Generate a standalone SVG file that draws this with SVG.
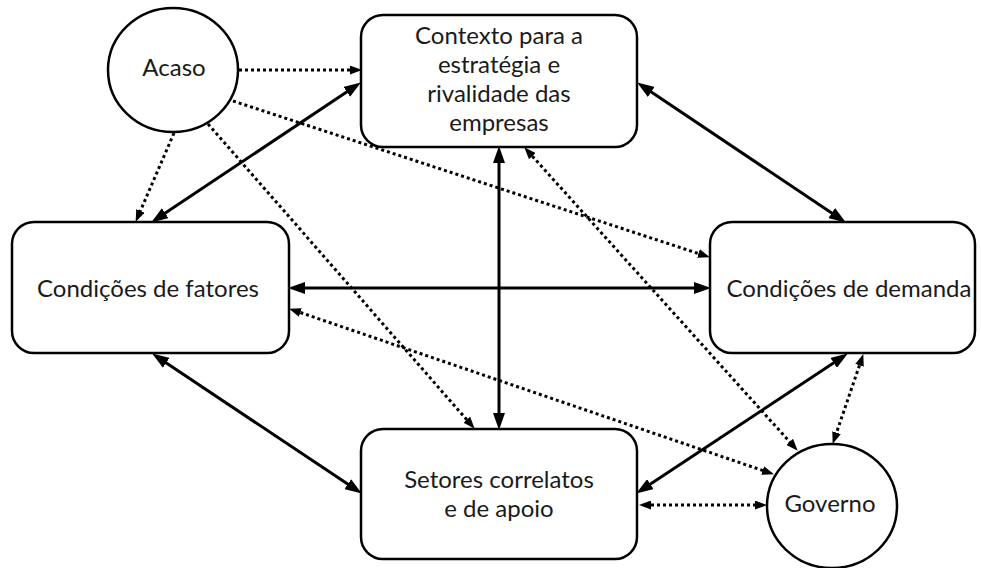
<svg xmlns="http://www.w3.org/2000/svg" width="981" height="568" viewBox="0 0 981 568">
<style>
.box{fill:#fff;stroke:#000;stroke-width:2.5}
.t{font-family:"Lato","Liberation Sans",sans-serif;font-size:24px;fill:#1a1a1a;text-anchor:middle}
.solid{fill:none;stroke:#000;stroke-width:3;marker-start:url(#ah);marker-end:url(#ah)}
.dot{fill:none;stroke:#000;stroke-width:3;stroke-dasharray:3 3}
.d2{marker-start:url(#dh);marker-end:url(#dh)}
.d1{marker-end:url(#dh)}
</style>
<defs>
<marker id="ah" viewBox="0 0 17 12" refX="8" refY="6" markerWidth="17" markerHeight="12" markerUnits="userSpaceOnUse" orient="auto-start-reverse"><path d="M0,0 L17,6 L0,12 z" fill="#000"/></marker>
<marker id="dh" viewBox="0 0 12 9" refX="6" refY="4.5" markerWidth="12" markerHeight="9" markerUnits="userSpaceOnUse" orient="auto-start-reverse"><path d="M0,0 L12,4.5 L0,9 z" fill="#000"/></marker>
</defs>
<rect width="981" height="568" fill="#fff"/>
<g id="nodes">
<g id="acaso"><ellipse class="box" cx="173" cy="70" rx="65" ry="62"/><text class="t" x="174" y="76">Acaso</text></g>
<g id="contexto"><rect class="box" x="361" y="15" width="276" height="132" rx="22"/><text class="t" x="499" y="44">Contexto para a</text><text class="t" x="499" y="73">estratégia e</text><text class="t" x="499" y="102">rivalidade das</text><text class="t" x="499" y="131">empresas</text></g>
<g id="fatores"><rect class="box" x="12" y="222" width="277" height="131" rx="22"/><text class="t" x="148" y="297">Condições de fatores</text></g>
<g id="demanda"><rect class="box" x="710" y="222" width="265" height="131" rx="22"/><text class="t" x="849" y="297">Condições de demanda</text></g>
<g id="setores"><rect class="box" x="361" y="429" width="276" height="130" rx="22"/><text class="t" x="499" y="488">Setores correlatos</text><text class="t" x="499" y="517">e de apoio</text></g>
<g id="governo"><ellipse class="box" cx="832" cy="506" rx="65" ry="62"/><text class="t" x="830" y="512">Governo</text></g>
</g>
<g id="connectors">
<line class="solid" x1="158.6" y1="217.6" x2="353.4" y2="87.4"/>
<line class="solid" x1="644.6" y1="87.5" x2="838.4" y2="217.5"/>
<line class="solid" x1="499" y1="155" x2="499" y2="421"/>
<line class="solid" x1="297" y1="288" x2="702" y2="288"/>
<line class="solid" x1="159.6" y1="358.4" x2="354.4" y2="488.6"/>
<line class="solid" x1="643.7" y1="488.6" x2="840.3" y2="358.4"/>
<line class="dot d1" x1="239" y1="70" x2="356" y2="70"/>
<line class="dot d1" x1="174" y1="133" x2="138" y2="216.4"/>
<line class="dot d1" x1="233" y1="101" x2="704.2" y2="255.4"/>
<line class="dot d1" x1="208" y1="124" x2="470.7" y2="424.2"/>
<line class="dot d2" x1="528.3" y1="151.7" x2="793.7" y2="446.3"/>
<line class="dot d2" x1="294.7" y1="310.6" x2="768.3" y2="472.4"/>
<line class="dot d2" x1="861.4" y1="359.7" x2="834.6" y2="438.3"/>
<line class="dot d2" x1="645" y1="505" x2="761" y2="505"/>
</g>
</svg>
